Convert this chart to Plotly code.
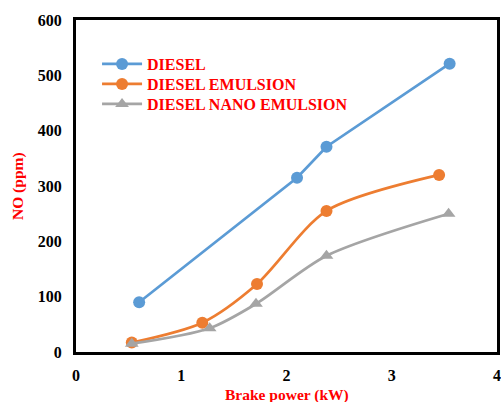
import plotly.graph_objects as go

diesel_x = [0.60, 2.10, 2.38, 3.55]
diesel_y = [90, 315, 371, 521]
emul_x = [0.53, 1.20, 1.72, 2.38, 3.45]
emul_y = [17, 53, 123, 255, 320]
nano_x = [0.53, 1.27, 1.71, 2.38, 3.54]
nano_y = [15, 43, 87, 174, 250]

font_family = "Liberation Serif"
legend_font = dict(family=font_family, size=16, color="red", weight="bold")

fig = go.Figure()
fig.add_trace(go.Scatter(x=diesel_x, y=diesel_y, mode="lines+markers", name="DIESEL",
                         legend="legend",
                         line=dict(color="#5B9BD5", width=2.7),
                         marker=dict(symbol="circle", size=12, color="#5B9BD5")))
fig.add_trace(go.Scatter(x=emul_x, y=emul_y, mode="lines+markers", name="DIESEL EMULSION",
                         legend="legend2",
                         line=dict(color="#ED7D31", width=2.7, shape="spline", smoothing=0.8),
                         marker=dict(symbol="circle", size=12, color="#ED7D31")))
fig.add_trace(go.Scatter(x=nano_x, y=nano_y, mode="lines+markers", name="DIESEL NANO EMULSION",
                         legend="legend3",
                         line=dict(color="#A5A5A5", width=2.7, shape="spline", smoothing=0.8),
                         marker=dict(symbol="triangle-up", size=12, color="#A5A5A5")))

# plot area spans x 76..497, y 20..352 on the page
plot_h = 332
def ypix(p):
    return (352 - p) / plot_h

common_leg = dict(x=0.05, xanchor="left", yanchor="middle", bgcolor="rgba(0,0,0,0)",
                  font=legend_font, itemwidth=40)
fig.update_layout(
    width=501, height=402,
    margin=dict(l=76, r=4, t=20, b=50, autoexpand=False),
    paper_bgcolor="white", plot_bgcolor="white",
    font=dict(family=font_family, size=14, color="black"),
    showlegend=True,
    legend=dict(y=ypix(64), **common_leg),
    legend2=dict(y=ypix(84), **common_leg),
    legend3=dict(y=ypix(104), **common_leg),
)
fig.update_xaxes(range=[0, 4], dtick=1, showgrid=False, zeroline=False, automargin=False,
                 showline=True, linewidth=3, linecolor="black", mirror=True, ticks="",
                 ticklabelstandoff=7, ticklabeloverflow="allow",
                 tickfont=dict(family=font_family, size=16, color="black", weight="bold"))
fig.update_yaxes(range=[0, 600], dtick=100, showgrid=False, zeroline=False, automargin=False,
                 showline=True, linewidth=3, linecolor="black", mirror=True, ticks="",
                 ticklabelstandoff=8, ticklabeloverflow="allow",
                 tickfont=dict(family=font_family, size=16, color="black", weight="bold"))

title_font = dict(family=font_family, size=15.5, color="red", weight="bold")
fig.add_annotation(text="Brake power (kW)", xref="paper", yref="paper",
                   x=0.5, y=ypix(395), xanchor="center", yanchor="middle",
                   showarrow=False, font=title_font)
fig.add_annotation(text="NO (ppm)", xref="paper", yref="paper",
                   x=(18 - 76) / 421, y=0.5, xanchor="center", yanchor="middle",
                   textangle=-90, showarrow=False, font=title_font)

fig.write_html("out.html", config={"displayModeBar": False},
               post_script="document.body.style.margin='0';document.body.style.overflow='hidden';")
